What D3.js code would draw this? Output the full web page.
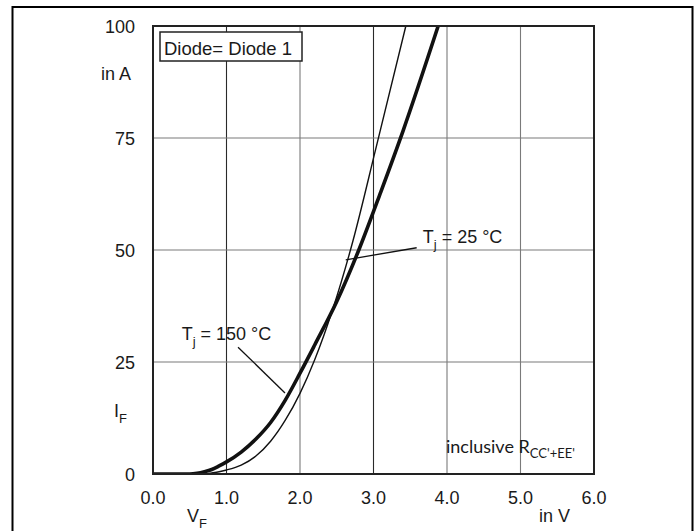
<!DOCTYPE html>
<html>
<head>
<meta charset="utf-8">
<script src="https://cdn.jsdelivr.net/npm/d3@7"></script>
<style>
  html, body { margin: 0; padding: 0; background: #fff; }
  svg { display: block; }
  text { fill: #1a1a1a; }
</style>
</head>
<body>
<svg id="chart" width="697" height="531" font-family="'Liberation Sans', Arial, sans-serif"></svg>
<script>
// ---- data ----
const xTicks = [0, 1, 2, 3, 4, 5, 6];
const xTickLabels = ["0.0", "1.0", "2.0", "3.0", "4.0", "5.0", "6.0"];
const yTicks = [0, 25, 50, 75, 100];
const yTickLabels = ["0", "25", "50", "75", "100"];

// Tj = 150 °C (thick)
const vf150 = [0.0, 0.3, 0.5, 0.6, 0.7, 0.8, 0.9, 1.0, 1.2, 1.4, 1.6, 1.8, 2.0, 2.2, 2.5, 2.8, 3.1, 3.4, 3.88];
const if150 = [0.0, 0.0, 0.0, 0.15, 0.5, 1.0, 1.8, 2.7, 4.9, 7.8, 11.5, 16.5, 22.5, 28.8, 38.5, 50.0, 63.0, 76.5, 100.0];

// Tj = 25 °C (thin)
const vf25 = [0.0, 0.6, 0.7, 0.8, 0.9, 1.0, 1.2, 1.4, 1.6, 1.8, 2.0, 2.2, 2.45, 2.72, 3.03, 3.44];
const if25 = [0.0, 0.0, 0.05, 0.25, 0.5, 0.9, 2.0, 4.0, 7.3, 12.0, 18.0, 25.5, 37.0, 52.0, 72.5, 100.0];

const gridDark = [1, 3];

// ---- layout ----
const svg = d3.select("#chart");
const x = d3.scaleLinear().domain([0, 6]).range([153, 594]);
const y = d3.scaleLinear().domain([0, 100]).range([474, 26]);

// outer frame
svg.append("path")
  .attr("d", "M12.5,540 V7 H692.5 V540")
  .attr("fill", "none").attr("stroke", "#000").attr("stroke-width", 2);

// grid
svg.append("g").selectAll("line").data(xTicks.slice(1, -1)).join("line")
  .attr("x1", d => x(d)).attr("x2", d => x(d))
  .attr("y1", y(0)).attr("y2", y(100))
  .attr("stroke", d => gridDark.includes(d) ? "#2a2a2a" : "#7a7a7a")
  .attr("stroke-width", 1.1);
svg.append("g").selectAll("line").data(yTicks.slice(1, -1)).join("line")
  .attr("x1", x(0)).attr("x2", x(6))
  .attr("y1", d => y(d)).attr("y2", d => y(d))
  .attr("stroke", "#7a7a7a").attr("stroke-width", 1.1);

// curves
const line = d3.line().x(d => x(d[0])).y(d => y(d[1])).curve(d3.curveMonotoneX);
svg.append("defs").append("clipPath").attr("id", "clip")
  .append("rect").attr("x", x(0)).attr("y", y(100)).attr("width", x(6) - x(0)).attr("height", y(0) - y(100));

svg.append("path")
  .datum(vf25.map((v, i) => [v, if25[i]]))
  .attr("d", line).attr("fill", "none")
  .attr("stroke", "#111").attr("stroke-width", 1.4)
  .attr("clip-path", "url(#clip)");
svg.append("path")
  .datum(vf150.map((v, i) => [v, if150[i]]))
  .attr("d", line).attr("fill", "none")
  .attr("stroke", "#111").attr("stroke-width", 3.6)
  .attr("clip-path", "url(#clip)");

// plot frame
svg.append("rect")
  .attr("x", x(0)).attr("y", y(100))
  .attr("width", x(6) - x(0)).attr("height", y(0) - y(100))
  .attr("fill", "none").attr("stroke", "#222").attr("stroke-width", 2);

// y tick labels
svg.append("g").selectAll("text").data(yTicks).join("text")
  .attr("x", 135).attr("y", d => y(d) + 6.5)
  .attr("text-anchor", "end").attr("font-size", 18)
  .text((d, i) => yTickLabels[i]);
svg.append("text").attr("x", 131).attr("y", 80).attr("text-anchor", "end")
  .attr("font-size", 18).text("in A");
const ifl = svg.append("text").attr("x", 114).attr("y", 417).attr("font-size", 18);
ifl.append("tspan").text("I");
ifl.append("tspan").attr("dy", 6).attr("font-size", 13).text("F");

// x tick labels
svg.append("g").selectAll("text").data(xTicks).join("text")
  .attr("x", d => x(d)).attr("y", 504)
  .attr("text-anchor", "middle").attr("font-size", 18)
  .text((d, i) => xTickLabels[i]);
const vfl = svg.append("text").attr("x", 187).attr("y", 522).attr("font-size", 18);
vfl.append("tspan").text("V");
vfl.append("tspan").attr("dy", 6).attr("font-size", 13).text("F");
svg.append("text").attr("x", 539).attr("y", 522).attr("font-size", 18).text("in V");

// legend box
svg.append("rect").attr("x", 160).attr("y", 32).attr("width", 142).attr("height", 29)
  .attr("fill", "#fff").attr("stroke", "#222").attr("stroke-width", 1.5);
svg.append("text").attr("x", 164).attr("y", 55).attr("font-size", 18.5).text("Diode= Diode 1");

// annotations
const leaders = [
  {from: [1.157, 28.3], to: [1.796, 18.1]},
  {from: [3.587, 50.5], to: [2.622, 47.8]}
];
svg.append("g").selectAll("line").data(leaders).join("line")
  .attr("x1", d => x(d.from[0])).attr("y1", d => y(d.from[1]))
  .attr("x2", d => x(d.to[0])).attr("y2", d => y(d.to[1]))
  .attr("stroke", "#111").attr("stroke-width", 1.3);

function tLabel(vx, vy, temp) {
  const t = svg.append("text").attr("x", x(vx)).attr("y", y(vy)).attr("font-size", 18);
  t.append("tspan").text("T");
  t.append("tspan").attr("dy", 6).attr("font-size", 13).text("j");
  t.append("tspan").attr("dy", -6).text(" = " + temp + " °C");
}
tLabel(0.39, 29.9, "150");
tLabel(3.67, 51.6, "25");

// inclusive note
const inc = svg.append("text").attr("x", 446).attr("y", 453)
  .attr("font-family", "Lato, 'Open Sans', sans-serif").attr("font-size", 18);
inc.append("tspan").text("inclusive R");
inc.append("tspan").attr("dy", 5).attr("font-size", 13).text("CC'+EE'");
</script>
</body>
</html>
